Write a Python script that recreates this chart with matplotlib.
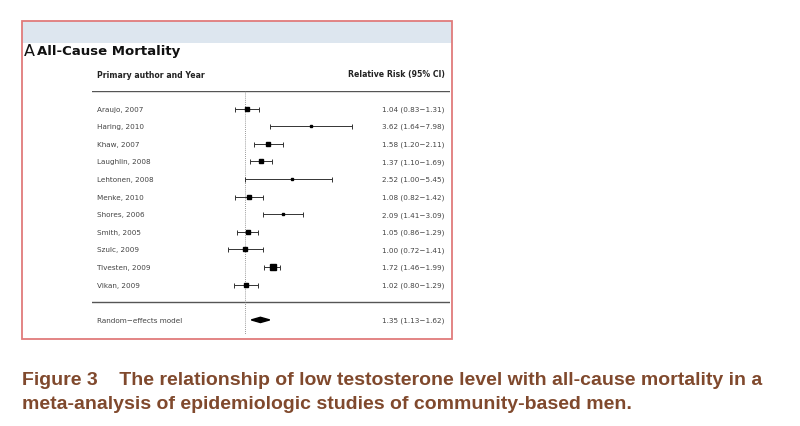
import numpy as np
import matplotlib
matplotlib.use("Agg")
import matplotlib.pyplot as plt
from matplotlib.patches import Rectangle

# data
studies = ["Araujo, 2007", "Haring, 2010", "Khaw, 2007", "Laughlin, 2008",
           "Lehtonen, 2008", "Menke, 2010", "Shores, 2006", "Smith, 2005",
           "Szulc, 2009", "Tivesten, 2009", "Vikan, 2009"]
rr = [1.04, 3.62, 1.58, 1.37, 2.52, 1.08, 2.09, 1.05, 1.00, 1.72, 1.02]
lo = [0.83, 1.64, 1.20, 1.10, 1.00, 0.82, 1.41, 0.86, 0.72, 1.46, 0.80]
hi = [1.31, 7.98, 2.11, 1.69, 5.45, 1.42, 3.09, 1.29, 1.41, 1.99, 1.29]
weight = [3.0, 1.5, 2.7, 3.4, 1.5, 3.0, 2.1, 3.4, 2.4, 4.0, 2.6]   # marker size
pooled = (1.35, 1.13, 1.62)

W, H = 800, 427
fig = plt.figure(figsize=(8, 4.27), dpi=100)

# background axes in pixel coords
bg = fig.add_axes([0, 0, 1, 1])
bg.set_xlim(0, W)
bg.set_ylim(H, 0)
bg.axis("off")

bg.add_patch(Rectangle((22, 22), 430, 22, facecolor="#dde6ef", edgecolor="none"))
bg.add_patch(Rectangle((22, 22), 430, 318, facecolor="none", edgecolor="#e07b7b", lw=1.3))

bg.text(24, 51, "A", fontsize=11.5, va="center", ha="left", color="#111111")
bg.text(37, 51, "All-Cause Mortality", fontsize=9.5, fontweight="bold",
        va="center", ha="left", color="#111111")
bg.text(97, 75, "Primary author and Year", fontsize=5.6, fontweight="bold",
        va="center", ha="left", color="#222222")
bg.text(445, 75, "Relative Risk (95% CI)", fontsize=5.6, fontweight="bold",
        va="center", ha="right", color="#222222")

bg.text(22, 381, "Figure 3    The relationship of low testosterone level with all-cause mortality in a",
        fontsize=14, fontweight="bold", color="#80492d", va="center", ha="left",
        family="Liberation Sans")
bg.text(22, 405, "meta-analysis of epidemiologic studies of community-based men.",
        fontsize=14, fontweight="bold", color="#80492d", va="center", ha="left",
        family="Liberation Sans")

# forest axes: rows 0..10 studies, 12 pooled
ax = fig.add_axes([92 / W, 1 - 335 / H, (450 - 92) / W, (335 - 92) / H])
ax.set_xscale("log")
px_per_ln = 51.3
x0 = 245
ax.set_xlim(np.exp((92 - x0) / px_per_ln), np.exp((450 - x0) / px_per_ln))
ax.set_ylim(12.8, -1)
ax.axis("off")

rows = np.arange(len(studies))
ax.axhline(-1, color="#555555", lw=1.0)
ax.axhline(11, color="#555555", lw=1.0)
ax.plot([1, 1], [-1, 12.8], color="#777777", lw=0.6, ls=(0, (1, 1.5)))

for i in rows:
    ax.errorbar(rr[i], i, xerr=[[rr[i] - lo[i]], [hi[i] - rr[i]]], fmt="none",
                ecolor="#333333", elinewidth=0.7, capsize=1.8, capthick=0.7)
    ax.plot(rr[i], i, marker="s", ms=weight[i], color="black", mec="black")
    ax.text(0.014, i, studies[i], transform=ax.get_yaxis_transform(),
            fontsize=5.2, va="center", ha="left", color="#444444")
    ax.text(0.983, i, f"{rr[i]:.2f} ({lo[i]:.2f}\u2212{hi[i]:.2f})",
            transform=ax.get_yaxis_transform(), fontsize=5.2, va="center",
            ha="right", color="#444444")

m, l, h = pooled
ax.fill([l, m, h, m], [12, 11.85, 12, 12.15], color="black")
ax.text(0.014, 12, "Random\u2212effects model", transform=ax.get_yaxis_transform(),
        fontsize=5.2, va="center", ha="left", color="#444444")
ax.text(0.983, 12, f"{m:.2f} ({l:.2f}\u2212{h:.2f})", transform=ax.get_yaxis_transform(),
        fontsize=5.2, va="center", ha="right", color="#444444")

fig.savefig("out.png", dpi=100)
